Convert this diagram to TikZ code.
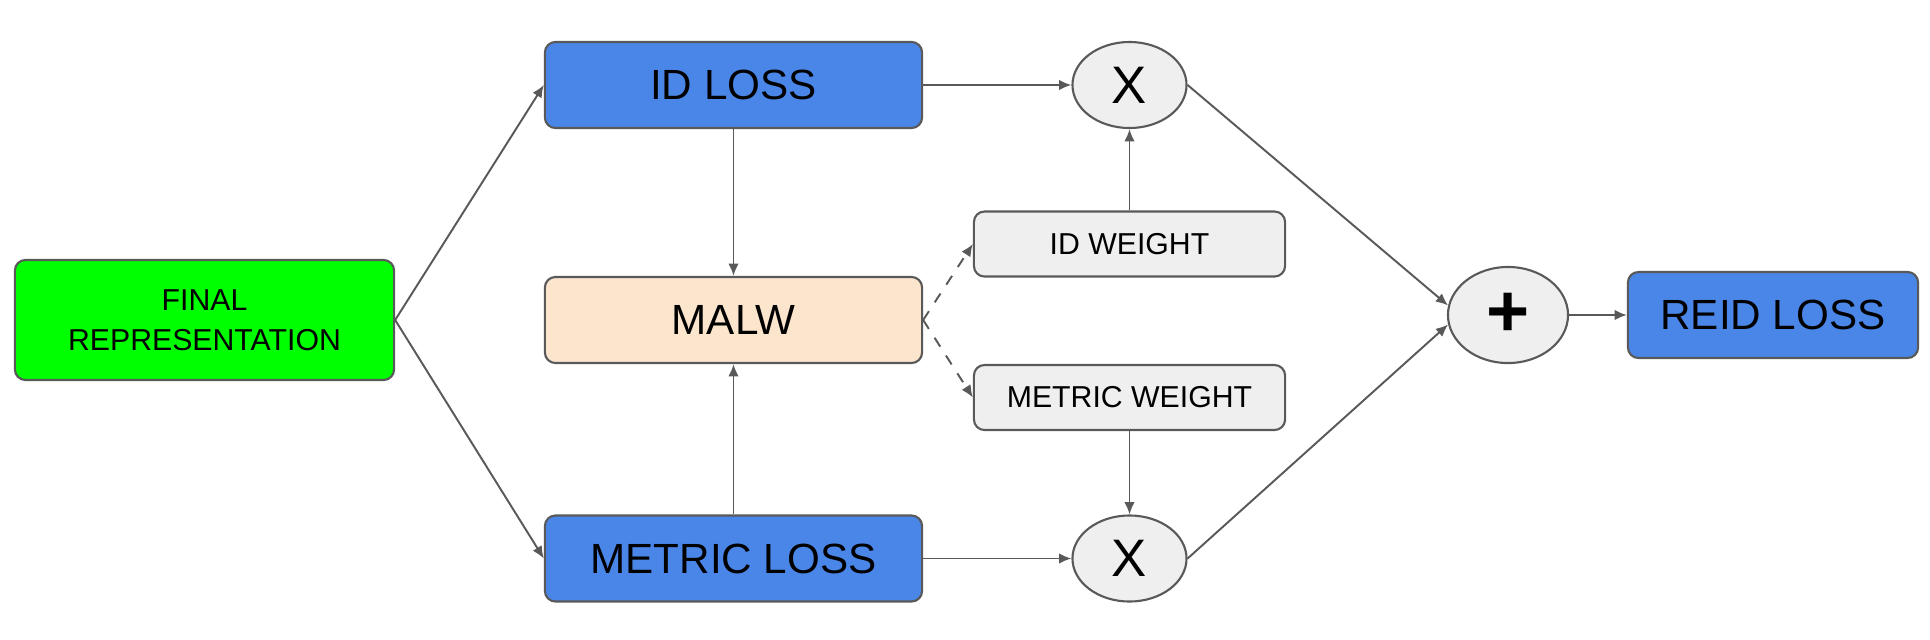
\documentclass[tikz,border=0pt]{standalone}
\usepackage{fontspec}
\setmainfont{Liberation Sans}
\usetikzlibrary{positioning,shapes,arrows.meta,calc}
\definecolor{lossblue}{HTML}{4A86E8}
\definecolor{featgreen}{HTML}{00FF00}
\definecolor{malwpeach}{HTML}{FCE5CD}
\definecolor{weightgray}{HTML}{EFEFEF}
\definecolor{edgegray}{HTML}{595959}

\begin{document}
\begin{tikzpicture}[x=0.01cm, y=-0.01cm,
    block/.style={rectangle, rounded corners=3pt, draw=edgegray, line width=0.6pt, align=center, inner sep=0pt},
    loss/.style={block, fill=lossblue, minimum width=3.77cm, minimum height=0.86cm, font=\fontsize{12}{14}\selectfont},
    weight/.style={block, fill=weightgray, minimum width=3.11cm, minimum height=0.65cm, font=\fontsize{8.6}{10}\selectfont},
    op/.style={ellipse, draw=edgegray, fill=weightgray, line width=0.6pt, inner sep=0pt, minimum width=1.14cm, minimum height=0.86cm},
    arrow/.style={-{Latex[length=3.5pt, width=3pt]}, line width=0.55pt, draw=edgegray}
]
    \useasboundingbox (0,0) rectangle (1930,639);
    % Nodes
    \node[block, fill=featgreen, minimum width=3.79cm, minimum height=1.2cm, font=\fontsize{8.6}{11.5}\selectfont] (final) at (204.5,320) {FINAL\\REPRESENTATION};
    \node[loss] (idloss) at (733.5,85) {ID LOSS};
    \node[block, fill=malwpeach, minimum width=3.77cm, minimum height=0.86cm, font=\fontsize{12}{14}\selectfont] (malw) at (733.5,320) {MALW};
    \node[loss] (metricloss) at (733.5,558.5) {METRIC LOSS};
    \node[weight] (idw) at (1129.5,244) {ID WEIGHT};
    \node[weight] (metricw) at (1129.5,397.5) {METRIC WEIGHT};
    \node[op, font=\fontsize{15}{15}\selectfont] (xid) at (1129.5,85) {\raisebox{-1.7pt}{X}};
    \node[op, font=\fontsize{15}{15}\selectfont] (xmetric) at (1129.5,558.5) {\raisebox{-1.7pt}{X}};
    \node[op, minimum width=1.2cm, minimum height=0.96cm, font=\fontsize{21}{21}\selectfont\bfseries] (plus) at (1508,315) {+};
    \node[loss, minimum width=2.9cm] (reid) at (1773,315) {REID LOSS};

    % Arrows
    \draw[arrow] (final.east) -- (idloss.west);
    \draw[arrow] (final.east) -- (metricloss.west);
    \draw[arrow] (idloss) -- (malw);
    \draw[arrow] (metricloss) -- (malw);
    \draw[arrow] (idloss) -- (xid);
    \draw[arrow] (metricloss) -- (xmetric);
    \draw[arrow] (idw) -- (xid);
    \draw[arrow] (metricw) -- (xmetric);
    \draw[arrow] (xid.east) -- (plus.171);
    \draw[arrow] (xmetric.east) -- (plus.189);
    \draw[arrow] (plus) -- (reid);

    % Dashed weight outputs
    \draw[arrow, dashed] (malw.east) -- (idw.west);
    \draw[arrow, dashed] (malw.east) -- (metricw.west);
\end{tikzpicture}
\end{document}
